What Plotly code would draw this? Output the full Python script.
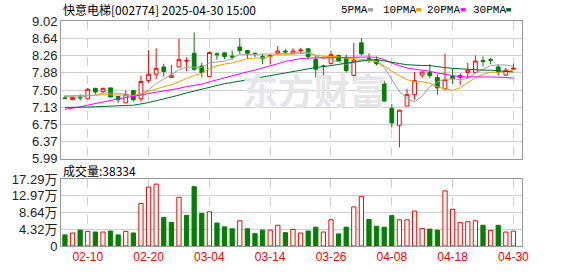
import plotly.graph_objects as go
import pandas as pd

# ---------------- data ----------------
dates = [
    "2025-02-05", "2025-02-06", "2025-02-07", "2025-02-10", "2025-02-11", "2025-02-12",
    "2025-02-13", "2025-02-14", "2025-02-17", "2025-02-18", "2025-02-19", "2025-02-20",
    "2025-02-21", "2025-02-24", "2025-02-25", "2025-02-26", "2025-02-27", "2025-02-28",
    "2025-03-03", "2025-03-04", "2025-03-05", "2025-03-06", "2025-03-07", "2025-03-10",
    "2025-03-11", "2025-03-12", "2025-03-13", "2025-03-14", "2025-03-17", "2025-03-18",
    "2025-03-19", "2025-03-20", "2025-03-21", "2025-03-24", "2025-03-25", "2025-03-26",
    "2025-03-27", "2025-03-28", "2025-03-31", "2025-04-01", "2025-04-02", "2025-04-03",
    "2025-04-07", "2025-04-08", "2025-04-09", "2025-04-10", "2025-04-11", "2025-04-14",
    "2025-04-15", "2025-04-16", "2025-04-17", "2025-04-18", "2025-04-21", "2025-04-22",
    "2025-04-23", "2025-04-24", "2025-04-25", "2025-04-28", "2025-04-29", "2025-04-30",
]
opens = [7.33, 7.29, 7.35, 7.31, 7.54, 7.47, 7.55, 7.36, 7.22, 7.49,
         7.31, 7.71, 7.85, 8.01, 7.78, 8.01, 8.14, 8.31, 8.03, 7.80,
         8.30, 8.32, 8.25, 8.45, 8.37, 8.31, 8.24, 8.24, 8.31, 8.36,
         8.30, 8.37, 8.41, 8.18, 8.02, 8.09, 8.26, 8.22, 7.82, 8.54,
         8.20, 8.17, 7.64, 7.10, 6.73, 7.15, 7.40, 7.83, 7.89, 7.78,
         7.53, 7.80, 7.78, 7.89, 7.89, 8.15, 8.17, 8.01, 7.83, 7.96]
highs = [7.38, 7.36, 7.41, 7.55, 7.55, 7.55, 7.55, 7.37, 7.49, 7.50,
         7.82, 8.38, 8.42, 8.08, 8.05, 8.63, 8.22, 8.77, 8.10, 8.35,
         8.33, 8.33, 8.37, 8.64, 8.38, 8.33, 8.30, 8.29, 8.47, 8.40,
         8.42, 8.43, 8.42, 8.25, 8.06, 8.36, 8.28, 8.28, 8.54, 8.65,
         8.31, 8.24, 7.71, 7.20, 7.07, 7.53, 7.90, 7.90, 8.07, 7.85,
         8.30, 7.99, 7.87, 8.10, 8.26, 8.24, 8.21, 8.07, 7.99, 8.08]
lows = [7.30, 7.28, 7.27, 7.30, 7.41, 7.43, 7.34, 7.22, 7.22, 7.25,
        7.25, 7.66, 7.74, 7.80, 7.78, 8.00, 7.92, 7.92, 7.78, 7.80,
        8.17, 8.18, 8.17, 8.30, 8.18, 8.23, 8.07, 8.07, 8.29, 8.29,
        8.30, 8.31, 8.17, 7.78, 7.82, 8.07, 8.14, 7.89, 7.76, 8.26,
        8.10, 8.04, 7.25, 6.68, 6.24, 7.15, 7.29, 7.76, 7.76, 7.40,
        7.50, 7.64, 7.61, 7.76, 7.87, 8.02, 8.07, 7.82, 7.81, 7.94]
closes = [7.32, 7.34, 7.33, 7.52, 7.46, 7.54, 7.35, 7.29, 7.41, 7.29,
          7.69, 7.85, 7.98, 7.91, 7.83, 8.17, 8.15, 7.96, 7.89, 8.33,
          8.28, 8.24, 8.23, 8.37, 8.31, 8.30, 8.20, 8.26, 8.36, 8.34,
          8.36, 8.38, 8.24, 7.96, 8.03, 8.28, 8.14, 7.93, 8.16, 8.30,
          8.19, 8.08, 7.26, 6.78, 7.06, 7.40, 7.71, 7.90, 7.82, 7.55,
          7.73, 7.75, 7.82, 7.94, 8.14, 8.13, 8.16, 7.90, 7.94, 7.98]
# volume in 万手 (last one = 38334 手)
volumes_wan = [2.86, 3.36, 4.10, 3.77, 3.61, 3.61, 3.86, 2.86, 3.77, 3.36,
               10.99, 15.20, 15.96, 7.34, 6.09, 12.56, 7.92, 15.30, 8.42, 8.83,
               5.93, 4.93, 4.44, 6.51, 4.44, 3.19, 4.10, 4.10, 5.35, 3.44,
               4.27, 3.36, 3.86, 4.85, 3.61, 6.76, 3.11, 4.85, 10.07, 12.81,
               6.84, 5.10, 4.85, 7.84, 6.76, 6.76, 9.00, 4.52, 4.35, 4.10,
               14.22, 9.49, 6.01, 6.26, 6.51, 5.35, 4.02, 5.35, 3.61, 3.8334]
# closes of the 29 sessions before 2025-02-05 (estimated from where the MA lines start)
pre_closes = [7.35, 7.30, 7.28, 7.25, 7.22, 7.20, 7.18, 7.15, 7.13, 6.94,
              6.85, 6.78, 6.72, 6.75, 6.72, 6.70, 6.74, 6.80, 6.85, 6.92,
              7.30, 7.42, 7.45, 7.38, 7.40, 7.36, 7.40, 7.38, 7.36]

price_ticks = [5.99, 6.37, 6.75, 7.13, 7.50, 7.88, 8.26, 8.64, 9.02]
vol_ticks = [0, 4.32, 8.64, 12.97, 17.29]
ma_periods = [5, 10, 20, 30]
ma_names = ["5PMA", "10PMA", "20PMA", "30PMA"]
title_text = "快意电梯[002774] 2025-04-30 15:00"

# ---------------- styles ----------------
RED = "#ff0000"
GREEN = "#008000"
ma_colors = ["#a0a0a0", "#f0a000", "#ff00ff", "#006a2a"]
GRID = "#d0d0d0"
FRAME = "#999999"

W, H = 578, 276
ML, MR, MT, MB = 56, 56, 21, 20
PW, PH = W - ML - MR, H - MT - MB


def px(x):
    return (x - ML) / PW


def py(y):
    return (H - MB - y) / PH


all_close = pd.Series(pre_closes + closes)
mas = {n: all_close.rolling(n).mean().iloc[len(pre_closes):].tolist() for n in ma_periods}
prev_close = [pre_closes[-1]] + closes[:-1]
vol_up = [c >= p for c, p in zip(closes, prev_close)]

fig = go.Figure()
fig.add_trace(go.Candlestick(
    x=dates, open=opens, high=highs, low=lows, close=closes,
    increasing=dict(line=dict(color=RED, width=1), fillcolor="#ffffff"),
    decreasing=dict(line=dict(color=GREEN, width=1), fillcolor=GREEN),
    whiskerwidth=0, xaxis="x", yaxis="y", hoverinfo="skip", showlegend=False))
for n, col in zip(ma_periods, ma_colors):
    fig.add_trace(go.Scatter(x=dates, y=mas[n], mode="lines",
                             line=dict(color=col, width=1), xaxis="x", yaxis="y",
                             hoverinfo="skip", showlegend=False))
fig.add_trace(go.Bar(
    x=dates, y=volumes_wan, width=0.56,
    marker=dict(color=["#ffffff" if u else GREEN for u in vol_up],
                line=dict(color=[RED if u else GREEN for u in vol_up], width=1)),
    xaxis="x2", yaxis="y2", hoverinfo="skip", showlegend=False))

tick_idx = list(range(3, len(dates), 8))
tickvals = [dates[i] for i in tick_idx]
ticktext = [dates[i][5:] for i in tick_idx]
xr = [-0.52, len(dates) - 1 + 1.13]

common_x = dict(type="category", range=xr, tickvals=tickvals, showgrid=True,
                gridcolor=GRID, griddash="dash", gridwidth=1, showline=True,
                mirror=True, linecolor=FRAME, linewidth=1, ticks="", zeroline=False,
                fixedrange=True)
main_bottom = py(165)
vol_top = py(186)

fig.update_layout(
    width=W, height=H, margin=dict(l=ML, r=MR, t=MT, b=MB, pad=0),
    paper_bgcolor="#ffffff", plot_bgcolor="#ffffff", showlegend=False,
    xaxis=dict(domain=[0, 1], anchor="y", showticklabels=False,
               rangeslider=dict(visible=False), **common_x),
    xaxis2=dict(domain=[0, 1], anchor="y2", matches="x", ticktext=ticktext,
                tickfont=dict(family="Liberation Sans, Arial", size=12, color=RED),
                **common_x),
    yaxis=dict(domain=[main_bottom, 1], range=[price_ticks[0], price_ticks[-1]],
               tickvals=price_ticks, ticktext=[f"{v:.2f}" for v in price_ticks],
               tickfont=dict(family="Liberation Sans, Arial", size=13, color="#222222"),
               showgrid=True, gridcolor=GRID, gridwidth=1, showline=True, mirror=True,
               linecolor=FRAME, linewidth=1, ticks="", zeroline=False, fixedrange=True),
    yaxis2=dict(domain=[0, vol_top], range=[vol_ticks[0], vol_ticks[-1]],
                tickvals=vol_ticks,
                ticktext=["0"] + [f"{v:.2f}万" for v in vol_ticks[1:]],
                tickfont=dict(family="Liberation Sans, Noto Sans CJK SC", size=13, color="#222222"),
                showgrid=True, gridcolor=GRID, gridwidth=1, showline=True, mirror=True,
                linecolor=FRAME, linewidth=1, ticks="", zeroline=False, fixedrange=True),
    bargap=0.4,
)

ann = []
# watermark
ann.append(dict(x=px(312), y=py(92), xref="paper", yref="paper", text="<b>东方财富</b>",
                showarrow=False, font=dict(family="Noto Sans CJK SC", size=36, color="#e6e6ea"),
                xanchor="center", yanchor="middle"))
# title
ann.append(dict(x=px(56), y=py(9), xref="paper", yref="paper", text=title_text,
                showarrow=False, font=dict(family="Noto Sans CJK SC", size=12, color="#000000"),
                xanchor="left", yanchor="middle"))
# volume caption
ann.append(dict(x=px(56), y=py(177), xref="paper", yref="paper",
                text=f"成交量:{volumes_wan[-1] * 10000:.0f}",
                showarrow=False, font=dict(family="Noto Sans CJK SC", size=12, color="#000000"),
                xanchor="left", yanchor="middle"))
# MA legend
legend_x = [337, 379, 424, 470]
shapes = []
for name, col, xl in zip(ma_names, ma_colors, legend_x):
    ann.append(dict(x=px(xl), y=py(9.5), xref="paper", yref="paper", text=name,
                    showarrow=False, font=dict(family="Liberation Mono", size=11, color="#000000"),
                    xanchor="left", yanchor="middle"))
    xe = xl + 6.6 * len(name)
    shapes.append(dict(type="rect", xref="paper", yref="paper",
                       x0=px(xe + 3), x1=px(xe + 8), y0=py(11), y1=py(7.5),
                       fillcolor=col, line=dict(width=0)))
fig.update_layout(annotations=ann, shapes=shapes)

fig.write_html("out.html")
